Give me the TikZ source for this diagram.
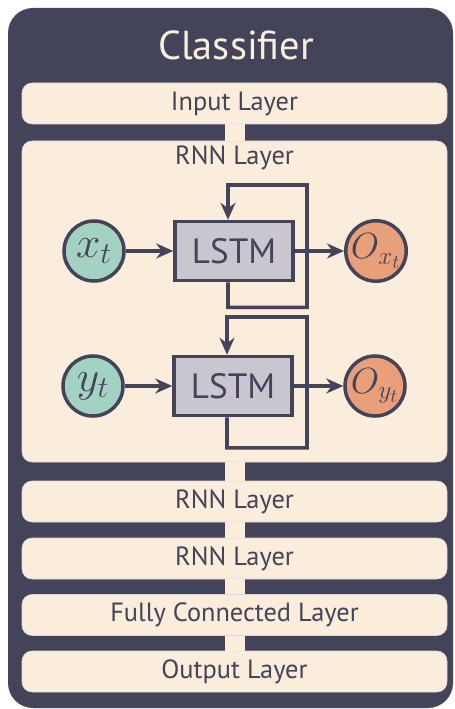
\documentclass[tikz,border=0pt]{standalone}
\usepackage{fontspec}
\setmainfont{PT Sans}
\usetikzlibrary{arrows.meta,positioning}
\definecolor{darkslate}{HTML}{434359}
\definecolor{cream}{HTML}{FBEDDB}
\definecolor{softteal}{HTML}{A3D2C3}
\definecolor{softorange}{HTML}{E9A07A}
\definecolor{softlilac}{HTML}{C9C6CF}

\begin{document}
\begin{tikzpicture}[
  layer/.style={
    rectangle, rounded corners=0.2cm, draw=black!15, line width=0.3pt, fill=cream,
    minimum width=8.5cm, minimum height=0.82cm, text=darkslate,
    font=\fontsize{15}{17}\selectfont
  },
  cell/.style={
    rectangle, draw=darkslate, line width=2pt, fill=softlilac,
    minimum width=2.36cm, minimum height=1.18cm, text=darkslate,
    font=\fontsize{20}{22}\selectfont
  },
  inp/.style={
    circle, draw=darkslate, line width=2pt, fill=softteal,
    minimum size=1.2cm, inner sep=0pt, text=darkslate,
    font=\fontsize{25}{27}\selectfont
  },
  outp/.style={
    circle, draw=darkslate, line width=2pt, fill=softorange,
    minimum size=1.2cm, inner sep=0pt, text=darkslate,
    font=\fontsize{22}{24}\selectfont
  },
  stem/.style={draw=cream, line width=0.4cm},
  arrow/.style={-{Stealth[length=3.4mm,width=3mm]}, draw=darkslate, line width=2pt},
  feed/.style={-{Stealth[length=3.4mm,width=3mm]}, draw=darkslate, line width=2pt, line join=miter}
]
\useasboundingbox (0,0) rectangle (9.1,-14.18);
\fill[darkslate, rounded corners=0.5cm] (0.16,-0.16) rectangle (9.06,-14.16);
\node[text=cream, font=\fontsize{23}{26}\selectfont] (title) at (4.72,-0.9) {Classifier};

\node[layer] (input) at (4.69,-2.07) {Input Layer};
\node[layer, minimum height=6.42cm] (rnn) at (4.69,-6.03) {};
\node[layer, draw=none, fill=none] (rnnlabel) at (4.69,-3.16) {RNN Layer};
\node[layer] (rnnb) at (4.69,-10.03) {RNN Layer};
\node[layer] (rnnc) at (4.69,-11.17) {RNN Layer};
\node[layer] (fc) at (4.69,-12.3) {Fully Connected Layer};
\node[layer] (output) at (4.69,-13.43) {Output Layer};

\draw[stem] (input.south) -- (rnn.north);
\draw[stem] (rnn.south) -- (rnnb.north);
\draw[stem] (rnnb.south) -- (rnnc.north);
\draw[stem] (rnnc.south) -- (fc.north);
\draw[stem] (fc.south) -- (output.north);

\node[inp] (xt) at (1.88,-5.02) {$x_t$};
\node[cell] (lstmx) at (4.68,-5.02) {LSTM};
\node[outp] (ox) at (7.52,-5.02) {$O_{x_t}$};

\node[inp] (yt) at (1.86,-7.72) {$y_t$};
\node[cell] (lstmy) at (4.66,-7.72) {LSTM};
\node[outp] (oy) at (7.5,-7.72) {$O_{y_t}$};

\draw[feed] ([xshift=-1.2mm]lstmx.south) |- ++(1.58,-0.5) |- (4.56,-3.7) -- ([xshift=-1.2mm]lstmx.north);
\draw[feed] ([xshift=-1.2mm]lstmy.south) |- ++(1.6,-0.61) |- (4.54,-6.34) -- ([xshift=-1.2mm]lstmy.north);

\draw[arrow] (xt) -- (lstmx);
\draw[arrow] (lstmx) -- (ox);
\draw[arrow] (yt) -- (lstmy);
\draw[arrow] (lstmy) -- (oy);
\end{tikzpicture}
\end{document}
